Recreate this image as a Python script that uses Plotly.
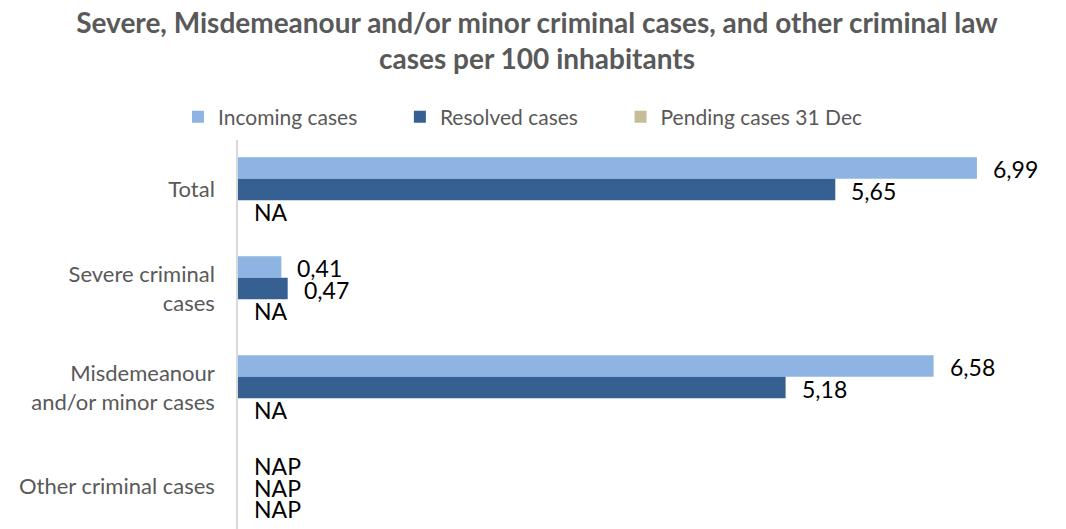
import plotly.graph_objects as go

categories = ["Total", "Severe criminal cases", "Misdemeanour and/or minor cases", "Other criminal cases"]
tick_labels = ["Total", "Severe criminal<br>cases", "Misdemeanour<br>and/or minor cases", "Other criminal cases"]
series_names = ["Incoming cases", "Resolved cases", "Pending cases 31 Dec"]
incoming = [6.99, 0.41, 6.58, None]
resolved = [5.65, 0.47, 5.18, None]
pending = [None, None, None, None]
incoming_status = ["", "", "", "NAP"]
resolved_status = ["", "", "", "NAP"]
pending_status = ["NA", "NA", "NA", "NAP"]
colors = ["#8EB4E3", "#376092", "#C4BD97"]

FONT = "Lato"
GRAY = "#595959"
bargap = 0.35
# page body has an 8px default margin; figure is sized to fit the window
W, H = 1066 - 8, 529 - 8
L, R, T = 230, 88, 132
PW, PH = W - L - R, H - T

series = [incoming, resolved, pending]
statuses = [incoming_status, resolved_status, pending_status]
pads = [7, 7, 0]

fig = go.Figure()
for name, vals, col, pad in zip(series_names, series, colors, pads):
    fig.add_trace(go.Bar(
        y=categories, x=[v if v is not None else 0 for v in vals],
        name=name + "\u00a0" * pad, orientation="h", marker=dict(color=col, line=dict(width=0)),
        hoverinfo="skip",
    ))

w = (1 - bargap) / 3
annotations = []
for k, (vals, stat) in enumerate(zip(series, statuses)):
    for i, (v, s) in enumerate(zip(vals, stat)):
        label = f"{v:.2f}".replace(".", ",") if v is not None else s
        if not label:
            continue
        annotations.append(dict(
            x=v if v is not None else 0, y=i + (k - 1) * w, xref="x", yref="y",
            text=label, showarrow=False, xanchor="left", yanchor="middle",
            xshift=14, yshift=-1, font=dict(family=FONT, size=23, color="#000000"),
        ))

fig.update_layout(
    width=W, height=H,
    margin=dict(l=L, r=R, t=T, b=0, autoexpand=False),
    paper_bgcolor="white", plot_bgcolor="white",
    barmode="group", bargap=bargap, bargroupgap=0,
    font=dict(family=FONT, color=GRAY),
    title=dict(
        text="Severe, Misdemeanour and/or minor criminal cases, and other criminal law<br>cases per 100 inhabitants",
        x=0.5, xanchor="center", y=1 - 25 / H, yanchor="top", yref="container",
        font=dict(family=FONT, size=28, color=GRAY, weight="bold"),
    ),
    legend=dict(
        orientation="h", x=(170 - L) / PW, xanchor="left", y=1 + 23 / PH, yanchor="middle",
        font=dict(family=FONT, size=21, color=GRAY),
        traceorder="normal",
    ),
    xaxis=dict(range=[0, 7], showgrid=False, zeroline=False, showticklabels=False,
               showline=False, ticks="", automargin=False),
    yaxis=dict(
        range=[3.429, -0.5], type="category", tickvals=categories, ticktext=tick_labels,
        showgrid=False, zeroline=False, showline=True, linecolor="#D9D9D9", linewidth=1.5,
        ticks="outside", ticklen=17, tickcolor="rgba(0,0,0,0)", automargin=False,
        tickfont=dict(family=FONT, size=22, color=GRAY),
    ),
    annotations=annotations,
)

fig.write_html("out.html")
